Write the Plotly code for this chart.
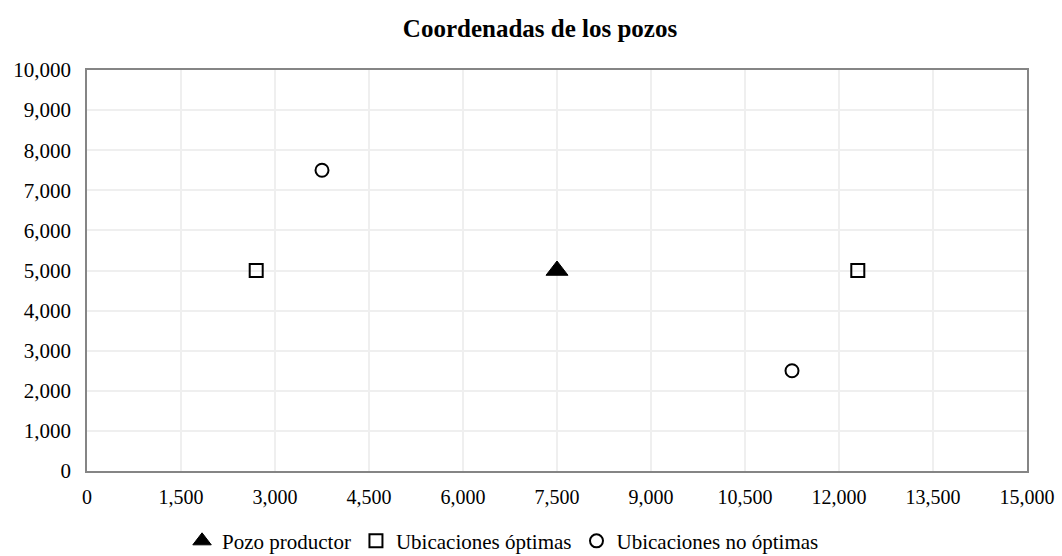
import plotly.graph_objects as go

# Data
productor_x = [7500]
productor_y = [5000]
optimas_x = [2700, 12300]
optimas_y = [5000, 5000]
no_optimas_x = [3750, 11250]
no_optimas_y = [7500, 2500]

x_ticks = [0, 1500, 3000, 4500, 6000, 7500, 9000, 10500, 12000, 13500, 15000]
y_ticks = [0, 1000, 2000, 3000, 4000, 5000, 6000, 7000, 8000, 9000, 10000]

FONT = "Liberation Serif, Times New Roman, serif"

fig = go.Figure()
fig.add_trace(go.Scatter(
    x=productor_x, y=productor_y, mode="markers", name="Pozo productor",
    marker=dict(symbol="triangle-up", size=19, color="black",
                line=dict(color="black", width=1)),
))
fig.add_trace(go.Scatter(
    x=optimas_x, y=optimas_y, mode="markers", name="Ubicaciones óptimas",
    marker=dict(symbol="square-open", size=13, color="black",
                line=dict(color="black", width=2)),
))
fig.add_trace(go.Scatter(
    x=no_optimas_x, y=no_optimas_y, mode="markers", name="Ubicaciones no óptimas",
    marker=dict(symbol="circle-open", size=13, color="black",
                line=dict(color="black", width=2)),
))

fig.update_layout(
    width=1062, height=556,
    margin=dict(l=87, r=35, t=70, b=85, autoexpand=False),
    paper_bgcolor="white", plot_bgcolor="white",
    font=dict(family=FONT, size=21, color="black"),
    title=dict(text="<b>Coordenadas de los pozos</b>", x=0.5085, xref="container",
               xanchor="center", y=0.9496, yref="container", yanchor="middle",
               font=dict(family=FONT, size=25, color="black")),
    showlegend=True,
    legend=dict(orientation="h", x=0.4426, xanchor="center", y=-0.175, yanchor="middle",
                font=dict(family=FONT, size=21, color="black"),
                itemwidth=30, tracegroupgap=0, bgcolor="rgba(0,0,0,0)"),
    xaxis=dict(range=[0, 15000], tickvals=x_ticks, tickformat=",d",
               tickfont=dict(family=FONT, size=20, color="black"),
               showgrid=True, gridcolor="#efefef", gridwidth=1.5,
               showline=True, linecolor="#858585", linewidth=1.5, mirror=True,
               ticks="", zeroline=False, ticklabelstandoff=7, automargin=False),
    yaxis=dict(range=[0, 10000], tickvals=y_ticks, tickformat=",d",
               tickfont=dict(family=FONT, size=21, color="black"),
               showgrid=True, gridcolor="#efefef", gridwidth=1.5,
               showline=True, linecolor="#858585", linewidth=1.5, mirror=True,
               ticks="", zeroline=False, ticklabelstandoff=10, automargin=False),
)

fig.write_html("out.html",
               config={"displayModeBar": False},
               post_script="document.body.style.margin='0';document.body.style.overflow='hidden';")
